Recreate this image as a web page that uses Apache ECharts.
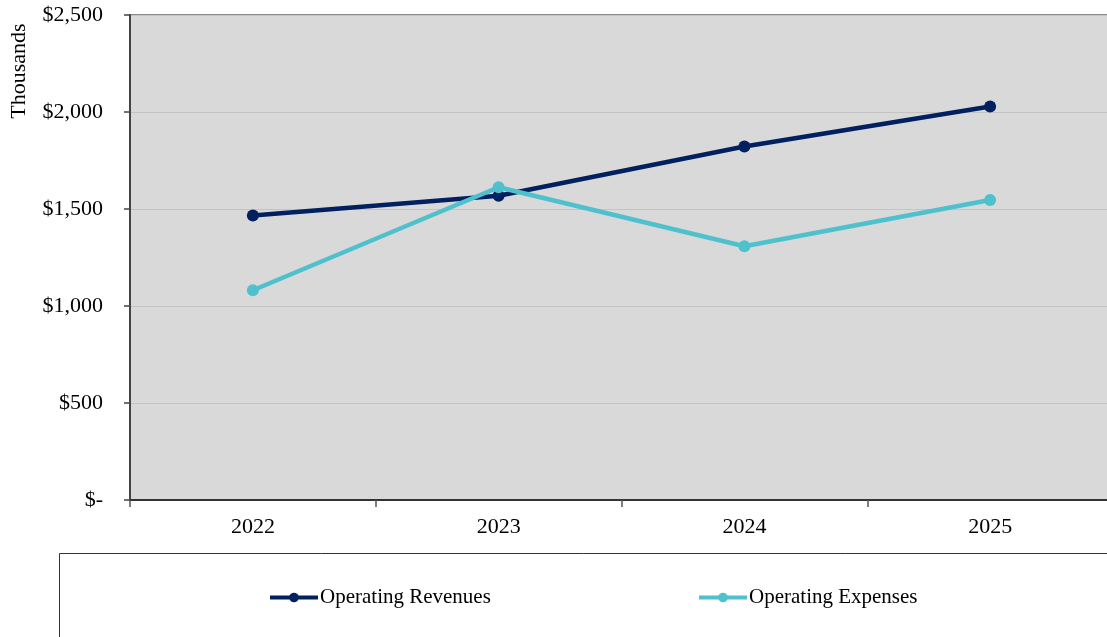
<!DOCTYPE html>
<html>
<head>
<meta charset="utf-8">
<script src="https://cdn.jsdelivr.net/npm/echarts@6/dist/echarts.min.js"></script>
<style>
  html, body { margin: 0; padding: 0; background: #ffffff; }
  #chart { width: 1107px; height: 637px; }
</style>
</head>
<body>
<div id="chart"></div>
<script>
// Fiscal years on the category axis
const years = ['2022', '2023', '2024', '2025'];
// Values in thousands of dollars
const operatingRevenues = [1466, 1568, 1822, 2028];
const operatingExpenses = [1081, 1612, 1308, 1546];
// Value axis ticks
const yTicks = [0, 500, 1000, 1500, 2000, 2500];

const serif = 'Liberation Serif, Times New Roman, serif';
const navy = '#002060';
const teal = '#4FC1CD';

function money(v) {
  if (v === 0) return '$-';
  return '$' + v.toLocaleString('en-US');
}

const legendBase = {
  itemWidth: 48, itemHeight: 12, itemGap: 0,
  lineStyle: { width: 4 },
  textStyle: { fontFamily: serif, fontSize: 21, color: '#000000', padding: [0, 0, 0, -3] }
};

const chart = echarts.init(document.getElementById('chart'));
chart.setOption({
  animation: false,
  backgroundColor: '#ffffff',
  textStyle: { fontFamily: serif },
  grid: {
    left: 130, top: 15, width: 983, height: 485,
    outerBoundsMode: 'none',
    show: true, backgroundColor: '#d9d9d9',
    borderColor: '#8a8a8a', borderWidth: 2
  },
  graphic: [
    {
      type: 'rect', left: 57, top: 551, z: -1,
      shape: { width: 1100, height: 120 },
      style: { fill: 'none', stroke: '#333333', lineWidth: 1 }
    },
    {
      type: 'text', x: 19, y: 71, rotation: Math.PI / 2,
      style: {
        text: 'Thousands', fontFamily: serif, fontSize: 22, fill: '#000000',
        align: 'center', verticalAlign: 'middle'
      }
    }
  ],
  legend: [
    Object.assign({ data: ['Operating Revenues'], left: 263, top: 582 }, legendBase),
    Object.assign({ data: ['Operating Expenses'], left: 692, top: 582 }, legendBase)
  ],
  xAxis: {
    type: 'category',
    data: years,
    boundaryGap: true,
    axisLine: { lineStyle: { color: '#333333', width: 2 } },
    axisTick: { show: true, length: 7, lineStyle: { color: '#555555', width: 1.5 } },
    axisLabel: { color: '#000000', fontSize: 22, fontFamily: serif, margin: 16 },
    splitLine: { show: false }
  },
  yAxis: {
    type: 'value',
    min: yTicks[0], max: yTicks[yTicks.length - 1], interval: 500,
    axisLine: { show: true, lineStyle: { color: '#444444', width: 2 } },
    axisTick: { show: true, length: 6, lineStyle: { color: '#444444', width: 1.5 } },
    axisLabel: { color: '#000000', fontSize: 22, fontFamily: serif, margin: 27, formatter: money },
    splitLine: { show: true, lineStyle: { color: '#c4c4c4', width: 1 } }
  },
  series: [
    {
      name: 'Operating Revenues', type: 'line', data: operatingRevenues,
      symbol: 'circle', symbolSize: 12,
      lineStyle: { color: navy, width: 4.5 },
      itemStyle: { color: navy }, z: 3
    },
    {
      name: 'Operating Expenses', type: 'line', data: operatingExpenses,
      symbol: 'circle', symbolSize: 12,
      lineStyle: { color: teal, width: 4.5 },
      itemStyle: { color: teal }, z: 4
    }
  ]
});
</script>
</body>
</html>
